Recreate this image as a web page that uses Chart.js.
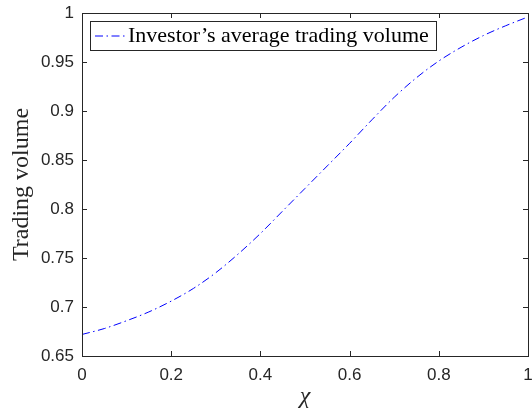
<!DOCTYPE html>
<html>
<head>
<meta charset="utf-8">
<script src="https://cdn.jsdelivr.net/npm/chart.js@4.4.0/dist/chart.umd.min.js"></script>
<style>
  html, body { margin: 0; padding: 0; background: #fff; }
  #wrap { width: 532px; height: 412px; }
</style>
</head>
<body>
<div id="wrap"><canvas id="volumeChart" width="532" height="412"></canvas></div>
<script>
// values
const chiValues = [0, 0.05, 0.1, 0.15, 0.2, 0.25, 0.3, 0.35, 0.4, 0.45, 0.5,
                   0.55, 0.6, 0.65, 0.7, 0.75, 0.8, 0.85, 0.9, 0.95, 1];
const tradingVolume = [0.672, 0.678, 0.686, 0.695, 0.706, 0.719, 0.735, 0.754, 0.775, 0.798, 0.821,
                       0.844, 0.867, 0.891, 0.914, 0.934, 0.951, 0.965, 0.977, 0.987, 0.996];
const seriesLabel = "Investor\u2019s average trading volume";

const xTickValues = [0, 0.2, 0.4, 0.6, 0.8, 1];
const xTickLabels = ["0", "0.2", "0.4", "0.6", "0.8", "1"];
const yTickValues = [0.65, 0.7, 0.75, 0.8, 0.85, 0.9, 0.95, 1];
const yTickLabels = ["0.65", "0.7", "0.75", "0.8", "0.85", "0.9", "0.95", "1"];

const axisColor = "#262626";
const lineBlue = "#0000ff";
const lineDash = [8, 3.5, 1.5, 3.5];

// matlab style box with ticks pointing inward, plus the framed legend
const boxAndLegend = {
  id: "boxAndLegend",
  afterDraw(chart) {
    const ctx = chart.ctx;
    const a = chart.chartArea;
    const xs = chart.scales.x;
    const ys = chart.scales.y;
    const tick = 5;
    ctx.save();
    ctx.strokeStyle = axisColor;
    ctx.lineWidth = 1;
    ctx.beginPath();
    xs.ticks.forEach(t => {
      const px = Math.round(xs.getPixelForValue(t.value)) + 0.5;
      ctx.moveTo(px, a.bottom); ctx.lineTo(px, a.bottom - tick);
      ctx.moveTo(px, a.top); ctx.lineTo(px, a.top + tick);
    });
    ys.ticks.forEach(t => {
      const py = Math.round(ys.getPixelForValue(t.value)) + 0.5;
      ctx.moveTo(a.left, py); ctx.lineTo(a.left + tick, py);
      ctx.moveTo(a.right, py); ctx.lineTo(a.right - tick, py);
    });
    ctx.stroke();
    ctx.strokeRect(Math.round(a.left) + 0.5, Math.round(a.top) + 0.5,
                   Math.round(a.right - a.left), Math.round(a.bottom - a.top));

    // legend
    const lx = 90.5, ly = 21.5, lw = 346, lh = 29;
    ctx.fillStyle = "#fff";
    ctx.fillRect(lx, ly, lw, lh);
    ctx.strokeRect(lx, ly, lw, lh);
    ctx.strokeStyle = lineBlue;
    ctx.setLineDash(lineDash);
    ctx.beginPath();
    ctx.moveTo(95, 36); ctx.lineTo(126, 36);
    ctx.stroke();
    ctx.setLineDash([]);
    ctx.fillStyle = "#000";
    ctx.font = "22px 'Liberation Serif'";
    ctx.textBaseline = "middle";
    ctx.textAlign = "left";
    ctx.fillText(chart.data.datasets[0].label, 128, 36.5);
    ctx.restore();
  }
};

new Chart(document.getElementById("volumeChart"), {
  type: "line",
  data: {
    datasets: [{
      label: seriesLabel,
      data: chiValues.map((x, i) => ({ x: x, y: tradingVolume[i] })),
      borderColor: lineBlue,
      borderWidth: 1,
      borderDash: lineDash,
      pointRadius: 0,
      cubicInterpolationMode: "monotone",
      fill: false
    }]
  },
  options: {
    responsive: false,
    animation: false,
    events: [],
    layout: { padding: { left: 0, top: 13, right: 4, bottom: 0 } },
    plugins: {
      legend: { display: false },
      tooltip: { enabled: false }
    },
    scales: {
      x: {
        type: "linear",
        min: 0,
        max: 1,
        afterBuildTicks: s => { s.ticks = xTickValues.map(v => ({ value: v })); },
        afterFit: s => {
          s.height = 56;
          // let the last label hang over the edge like the original
          s.paddingLeft = 0;
          s.paddingRight = 0;
        },
        grid: { display: false, drawTicks: false },
        border: { display: false },
        ticks: {
          color: axisColor,
          font: { family: "'Liberation Sans', Arial", size: 17 },
          padding: 9,
          maxRotation: 0,
          autoSkip: false,
          callback: (v, i) => xTickLabels[i]
        },
        title: {
          display: true,
          text: "\u03c7",
          color: axisColor,
          font: { family: "'Liberation Serif'", size: 24, style: "italic" },
          padding: { top: 0, bottom: 1 }
        }
      },
      y: {
        type: "linear",
        min: 0.65,
        max: 1,
        afterBuildTicks: s => { s.ticks = yTickValues.map(v => ({ value: v })); },
        afterFit: s => {
          s.width = 82;
          s.paddingTop = 0;
          s.paddingBottom = 0;
        },
        grid: { display: false, drawTicks: false },
        border: { display: false },
        ticks: {
          color: axisColor,
          font: { family: "'Liberation Sans', Arial", size: 17 },
          padding: 8,
          autoSkip: false,
          callback: (v, i) => yTickLabels[i]
        },
        title: {
          display: true,
          text: "Trading volume",
          color: axisColor,
          font: { family: "'Liberation Serif'", size: 24 },
          padding: { top: 7, bottom: 0 }
        }
      }
    }
  },
  plugins: [boxAndLegend]
});
</script>
</body>
</html>
